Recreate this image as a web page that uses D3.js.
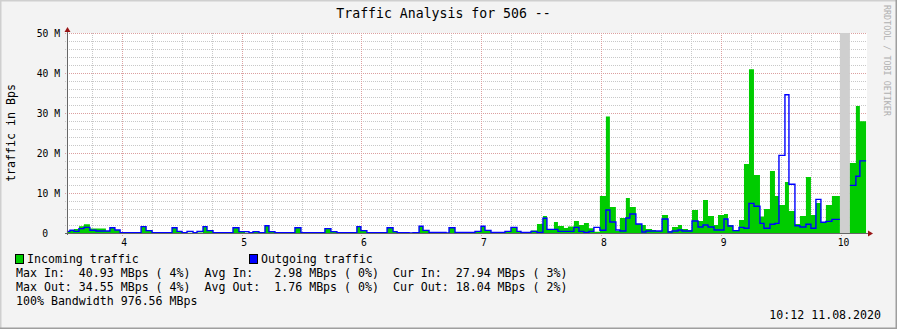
<!DOCTYPE html>
<html>
<head>
<meta charset="utf-8">
<script src="https://cdn.jsdelivr.net/npm/d3@7"></script>
<style>
  body { margin: 0; background: #f3f3f3; }
  svg { display: block; }
  text { font-family: "DejaVu Sans Mono", monospace; white-space: pre; }
</style>
</head>
<body>
<div id="chart"></div>
<script>
// ---- data ----
// start of each step, minutes after midnight; each value holds until the next start
const stepStart = [
  212.6, 214.1, 216.1, 218.6, 221.1, 224.1, 227.1, 232.1, 234.1, 236.6,
  239.2, 249.7, 252.2, 255.2, 265.2, 267.7, 270.2, 272.7, 275.7, 277.7,
  280.7, 282.7, 285.7, 295.7, 298.7, 301.7, 303.7, 305.7, 308.7, 311.7,
  313.7, 316.7, 326.7, 329.7, 341.7, 344.7, 347.7, 357.7, 359.7, 362.7,
  372.8, 375.8, 377.8, 383.8, 385.8, 388.8, 390.8, 393.8, 402.3, 403.8,
  406.8, 416.8, 419.8, 421.8, 424.8, 431.8, 434.8, 437.8, 439.8, 444.8,
  447.8, 450.8, 452.8, 456.3, 458.3, 461.3, 463.3, 466.3, 468.8, 471.3,
  473.8, 476.3, 479.3, 482.3, 484.3, 487.3, 489.3, 492.3, 494.3, 497.3,
  500.3, 502.3, 505.4, 507.4, 510.4, 513.4, 515.4, 518.4, 520.4, 523.4,
  525.4, 528.4, 530.9, 533.4, 536.4, 538.4, 541.4, 543.4, 545.9, 548.9,
  551.4, 553.9, 556.4, 559.4, 561.4, 564.4, 566.9, 568.9, 571.9, 573.9,
  576.9, 579.4, 582.4, 584.9, 587.4, 589.9, 592.4, 595.4, 599.4, 604.4,
  607.4, 609.4
];
const lastStepEnd = 612.5;

// MBps, null = unknown
const incoming = [
  0.3, 0.5, 1.0, 1.7, 2.2, 1.1, 1.1, 0.5, 1.3, 0.75,
  0.1, 1.6, 0.6, 0.1, 1.3, 0.4, 0.1, 0.05, 0.1, 0.15,
  1.6, 0.6, 0.1, 1.3, 0.3, 0.05, 0.05, 0.25, 0.1, 1.8,
  0.35, 0.1, 1.3, 0.1, 1.1, 0.35, 0.1, 1.6, 0.6, 0.1,
  1.3, 0.35, 0.1, 0, 0.1, 1.7, 0.65, 0.15, 0, 1.3,
  0.15, 0.4, 1.7, 0.65, 0.15, 0.4, 1.4, 0.4, 0.15, 0.6,
  2.25, 4.25, 0.9, 2.75, 1.75, 1.25, 1.6, 3.0, 2.0, 2.5,
  1.2, 0.3, 9.25, 29.1, 6.5, 0.5, 3.75, 8.75, 6.5, 2.25,
  2.0, 1.0, 0.75, 0.5, 4.5, 0.5, 1.5, 2.0, 1.0, 0.75,
  5.75, 3.0, 8.25, 4.25, 2.0, 4.5, 4.75, 2.0, 0.75, 3.25,
  17.25, 40.93, 14.5, 4.1, 6.0, 15.5, 9.25, 7.0, 12.75, 5.5,
  2.25, 4.25, 14.0, 4.5, 7.5, 2.75, 7.0, 9.25, null, 17.5,
  31.75, 27.94
];
const outgoing = [
  0.4, 0.7, 0.4, 1.1, 1.4, 0.7, 0.5, 0.5, 1.3, 0.75,
  0.1, 1.6, 0.6, 0.1, 1.3, 0.4, 0.1, 0.4, 0.1, 0.4,
  1.6, 0.6, 0.1, 1.3, 0.35, 0.35, 0.05, 0.35, 0.1, 1.8,
  0.35, 0.1, 1.3, 0.1, 1.1, 0.35, 0.1, 1.6, 0.6, 0.1,
  1.3, 0.35, 0.1, 0, 0.1, 1.7, 0.65, 0.15, 0, 1.3,
  0.15, 0.4, 1.7, 0.65, 0.15, 0.4, 1.4, 0.4, 0.15, 0.4,
  0.15, 3.7, 0.9, 0.9, 0.4, 0.4, 0.4, 1.4, 0.4, 0.15,
  0.4, 1.4, 0.7, 5.75, 2.75, 0.75, 0.5, 3.75, 4.75, 2.25,
  0.25, 0.5, 0.5, 0.5, 3.5, 0.25, 0.5, 0.75, 0.5, 0.5,
  3.0, 1.5, 2.0, 1.5, 0.75, 0.75, 3.5, 1.75, 0.6, 1.4,
  1.2, 7.4, 6.7, 2.4, 1.2, 2.2, 2.4, 19.4, 34.55, 12.2,
  1.8, 1.5, 2.2, 1.2, 8.4, 2.7, 2.9, 3.4, null, 11.9,
  14.2, 18.04
];

const hourTicks = [4, 5, 6, 7, 8, 9, 10];
const yTicks = [0, 10, 20, 30, 40, 50];
const yTickLabels = ['0', '10 M', '20 M', '30 M', '40 M', '50 M'];

const legendItems = [
  { label: 'Incoming traffic', color: '#00cc00' },
  { label: 'Outgoing traffic', color: '#0000ff' }
];
const statLines = [
  'Max In:  40.93 MBps ( 4%)  Avg In:   2.98 MBps ( 0%)  Cur In:  27.94 MBps ( 3%)',
  'Max Out: 34.55 MBps ( 4%)  Avg Out:  1.76 MBps ( 0%)  Cur Out: 18.04 MBps ( 2%)',
  '100% Bandwidth 976.56 MBps'
];
const titleText = 'Traffic Analysis for 506 --';
const yTitle = 'traffic in Bps';
const creditText = 'RRDTOOL / TOBI OETIKER';
const stampText = '10:12 11.08.2020';

// ---- layout ----
const W = 897, H = 329;
const plot = { left: 67, right: 867, top: 33, bottom: 233 };

const svg = d3.select('#chart').append('svg')
  .attr('width', W)
  .attr('height', H);

// frame
svg.append('rect').attr('width', W).attr('height', H).attr('fill', '#f3f3f3');
svg.append('path').attr('d', `M0,${H} V0 H${W}`).attr('fill', 'none')
  .attr('stroke', '#cfcfcf').attr('stroke-width', 3);
svg.append('path').attr('d', `M0,${H} H${W} V0`).attr('fill', 'none')
  .attr('stroke', '#9e9e9e').attr('stroke-width', 3);

const x = d3.scaleLinear().domain([212.63, 612.96]).range([plot.left, plot.right]);
const y = d3.scaleLinear().domain([0, 50]).range([plot.bottom, plot.top]);

svg.append('rect')
  .attr('x', plot.left).attr('y', plot.top)
  .attr('width', plot.right - plot.left).attr('height', plot.bottom - plot.top)
  .attr('fill', '#ffffff');

// grid
const gridG = svg.append('g').attr('class', 'grid').attr('shape-rendering', 'crispEdges');
const minorY = d3.range(0, 51, 2).filter(v => v % 10 !== 0);
const minorX = d3.range(hourTicks[0] * 60 - 45, lastStepEnd, 15).filter(m => m % 60 !== 0 && x(m) > plot.left);

gridG.selectAll('line.minor-y').data(minorY).join('line')
  .attr('x1', plot.left - 2).attr('x2', plot.right)
  .attr('y1', d => Math.round(y(d)) + 0.5).attr('y2', d => Math.round(y(d)) + 0.5)
  .attr('stroke', '#c8c8c8').attr('stroke-dasharray', '1,1');
gridG.selectAll('line.minor-x').data(minorX).join('line')
  .attr('x1', d => Math.round(x(d)) + 0.5).attr('x2', d => Math.round(x(d)) + 0.5)
  .attr('y1', plot.top).attr('y2', plot.bottom + 2)
  .attr('stroke', '#c8c8c8').attr('stroke-dasharray', '1,1');
gridG.selectAll('line.major-y').data(yTicks.filter(v => v > 0)).join('line')
  .attr('x1', plot.left - 2).attr('x2', plot.right)
  .attr('y1', d => Math.round(y(d)) + 0.5).attr('y2', d => Math.round(y(d)) + 0.5)
  .attr('stroke', '#dca0a0').attr('stroke-dasharray', '1,1');
gridG.selectAll('line.major-x').data(hourTicks).join('line')
  .attr('x1', d => Math.round(x(d * 60)) + 0.5).attr('x2', d => Math.round(x(d * 60)) + 0.5)
  .attr('y1', plot.top).attr('y2', plot.bottom + 3)
  .attr('stroke', '#dca0a0').attr('stroke-dasharray', '1,1');

// series points: each step drawn as a flat segment
const steps = stepStart.map((t, i) => ({
  t0: t,
  t1: i < stepStart.length - 1 ? stepStart[i + 1] : lastStepEnd,
  vin: incoming[i],
  vout: outgoing[i]
}));
const flat = key => steps.flatMap(s => [{ t: s.t0, v: s[key] }, { t: s.t1, v: s[key] }]);

// unknown data band
svg.append('g').selectAll('rect')
  .data(steps.filter(s => s.vin == null))
  .join('rect')
  .attr('x', d => x(d.t0)).attr('width', d => x(d.t1) - x(d.t0))
  .attr('y', plot.top).attr('height', plot.bottom - plot.top)
  .attr('fill', '#cfcfcf');

const area = d3.area()
  .defined(d => d.v != null)
  .x(d => x(d.t)).y0(y(0)).y1(d => y(d.v));
svg.append('path')
  .datum(flat('vin'))
  .attr('fill', legendItems[0].color)
  .attr('d', area);

const line = d3.line()
  .defined(d => d.v != null)
  .x(d => x(d.t)).y(d => y(d.v));
svg.append('path')
  .datum(flat('vout'))
  .attr('fill', 'none')
  .attr('stroke', legendItems[1].color)
  .attr('stroke-width', 1.4)
  .attr('d', line);

// axes
svg.append('line')
  .attr('x1', plot.left + 0.5).attr('x2', plot.left + 0.5)
  .attr('y1', plot.bottom + 2).attr('y2', plot.top - 3)
  .attr('stroke', '#666');
svg.append('line')
  .attr('x1', plot.left - 2).attr('x2', plot.right + 2)
  .attr('y1', plot.bottom + 0.5).attr('y2', plot.bottom + 0.5)
  .attr('stroke', '#666');
svg.append('path')
  .attr('d', `M${plot.left - 2.5},${plot.top - 1} L${plot.left + 0.5},${plot.top - 6} L${plot.left + 3.5},${plot.top - 1}Z`)
  .attr('fill', '#991515');
svg.append('path')
  .attr('d', `M${plot.right + 1},${plot.bottom - 2.5} L${plot.right + 6},${plot.bottom + 0.5} L${plot.right + 1},${plot.bottom + 3.5}Z`)
  .attr('fill', '#991515');

// tick labels
svg.append('g').selectAll('text')
  .data(yTicks)
  .join('text')
  .attr('x', (d, i) => i === 0 ? 48 : 60)
  .attr('y', d => y(d) + 3.5)
  .attr('text-anchor', 'end')
  .attr('font-size', '9.7px')
  .attr('fill', '#000')
  .text((d, i) => yTickLabels[i]);

svg.append('g').selectAll('text')
  .data(hourTicks)
  .join('text')
  .attr('x', d => x(d * 60) + 2.5)
  .attr('y', 246)
  .attr('text-anchor', 'middle')
  .attr('font-size', '9.7px')
  .attr('fill', '#000')
  .text(d => d);

// titles
svg.append('text')
  .attr('x', 443.5).attr('y', 18)
  .attr('text-anchor', 'middle')
  .attr('font-size', '13.2px')
  .text(titleText);

svg.append('text')
  .attr('transform', `translate(15,${(plot.top + plot.bottom) / 2}) rotate(-90)`)
  .attr('text-anchor', 'middle')
  .attr('font-size', '11.6px')
  .text(yTitle);

svg.append('text')
  .attr('transform', 'translate(884,5) rotate(90)')
  .attr('font-size', '8.4px')
  .attr('fill', '#b0b0b0')
  .text(creditText);

// legend
const legX = [15, 249];
const leg = svg.append('g').selectAll('g')
  .data(legendItems)
  .join('g')
  .attr('transform', (d, i) => `translate(${legX[i]},254)`);
leg.append('rect')
  .attr('x', 0.5).attr('y', 0.5).attr('width', 8).attr('height', 9)
  .attr('fill', d => d.color).attr('stroke', '#000');
leg.append('text')
  .attr('x', 12).attr('y', 9)
  .attr('font-size', '11.6px')
  .text(d => d.label);

svg.append('g').selectAll('text')
  .data(statLines)
  .join('text')
  .attr('x', 16)
  .attr('y', (d, i) => 277 + i * 14)
  .attr('font-size', '11.6px')
  .text(d => d);

svg.append('text')
  .attr('x', 881).attr('y', 319)
  .attr('text-anchor', 'end')
  .attr('font-size', '11.6px')
  .text(stampText);
</script>
</body>
</html>
